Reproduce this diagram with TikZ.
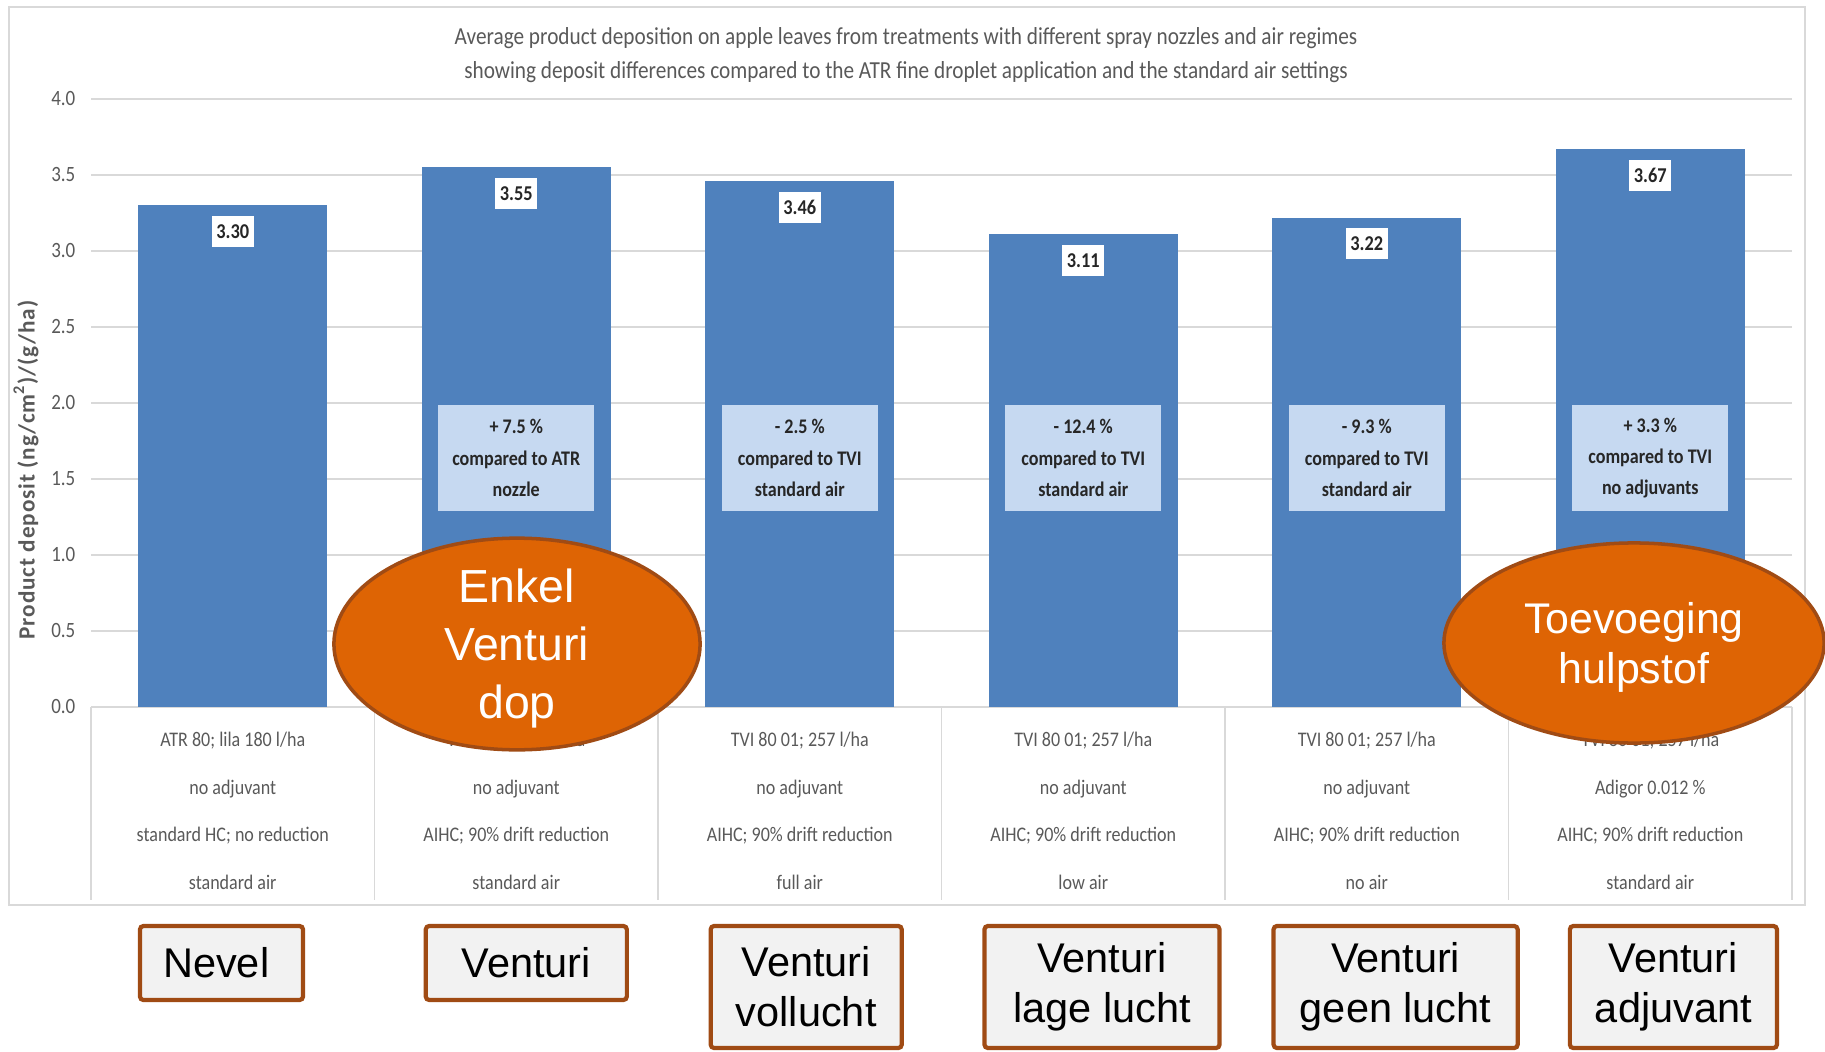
\documentclass[tikz,border=0pt]{standalone}
\usepackage{fontspec}
\setmainfont{Carlito}
\newfontfamily\chartfont[FakeStretch=0.87]{Carlito}
\newfontfamily\axisfont[LetterSpace=4]{Carlito}
\newfontfamily\arialfont{Liberation Sans}
\definecolor{barblue}{RGB}{79,129,189}
\definecolor{cmpblue}{RGB}{198,217,241}
\definecolor{gridgray}{RGB}{217,217,217}
\definecolor{textgray}{RGB}{89,89,89}
\definecolor{dutchorange}{RGB}{222,100,4}
\definecolor{darkrim}{RGB}{160,75,20}
\definecolor{boxgray}{RGB}{242,242,242}
\usetikzlibrary{shapes.geometric}

\begin{document}
\begin{tikzpicture}[x=0.01cm, y=-0.01cm,
    ticklabel/.style={anchor=east, text=textgray, inner sep=0pt, font=\chartfont\fontsize{6.2}{7}\selectfont},
    vallabel/.style={fill=white, text=black!85, minimum width=0.42cm, minimum height=0.31cm, inner sep=0pt, font=\chartfont\bfseries\fontsize{6}{7}\selectfont},
    cmpbox/.style={fill=cmpblue, text=black!85, minimum width=1.56cm, minimum height=1.06cm, inner sep=0pt, align=center, font=\chartfont\bfseries\fontsize{5.9}{8.9}\selectfont},
    cattext/.style={text=textgray, align=center, inner sep=0pt, font=\chartfont\fontsize{5.9}{13.57}\selectfont},
    oval/.style={ellipse, fill=dutchorange, draw=darkrim, line width=1pt, text=white, align=center, inner sep=0pt, text depth=0pt},
    namebox/.style={draw=darkrim, fill=boxgray, line width=1.2pt, rounded corners=1pt, align=center, inner sep=0pt, font=\arialfont\fontsize{11.8}{14.2}\selectfont}
  ]
        \useasboundingbox (0,0) rectangle (1825,1052);
        \draw[gridgray] (9,7) rectangle (1805,905);
        \node[text=textgray, align=center, font=\chartfont\fontsize{6.95}{9.7}\selectfont] (title) at (906,55)
          {Average product deposition on apple leaves from treatments with different spray nozzles and air regimes\\
           showing deposit differences compared to the ATR fine droplet application and the standard air settings};
        \node[rotate=90, text=textgray, font=\axisfont\bfseries\fontsize{6.6}{8}\selectfont] (ytitle) at (26,470)
          {Product deposit (ng/cm\textsuperscript{2})/(g/ha)};

        \draw[gridgray] (91,99) -- (1792,99);
        \draw[gridgray] (91,175) -- (1792,175);
        \draw[gridgray] (91,251) -- (1792,251);
        \draw[gridgray] (91,327) -- (1792,327);
        \draw[gridgray] (91,403) -- (1792,403);
        \draw[gridgray] (91,479) -- (1792,479);
        \draw[gridgray] (91,555) -- (1792,555);
        \draw[gridgray] (91,631) -- (1792,631);
        \draw[gridgray] (91,707) -- (1792,707);
        \node[ticklabel] (t40) at (76,99) {4.0};
        \node[ticklabel] (t35) at (76,175) {3.5};
        \node[ticklabel] (t30) at (76,251) {3.0};
        \node[ticklabel] (t25) at (76,327) {2.5};
        \node[ticklabel] (t20) at (76,403) {2.0};
        \node[ticklabel] (t15) at (76,479) {1.5};
        \node[ticklabel] (t10) at (76,555) {1.0};
        \node[ticklabel] (t05) at (76,631) {0.5};
        \node[ticklabel] (t00) at (76,707) {0.0};

        \fill[barblue] (138,707) rectangle (327,205.4);
        \fill[barblue] (422,707) rectangle (611,167.4);
        \fill[barblue] (705,707) rectangle (894,181.1);
        \fill[barblue] (989,707) rectangle (1178,234.3);
        \fill[barblue] (1272,707) rectangle (1461,217.6);
        \fill[barblue] (1556,707) rectangle (1745,149.2);
        \node[vallabel] (val1) at (232.75,231.4) {3.30};
        \node[vallabel] (val2) at (516.25,193.4) {3.55};
        \node[vallabel] (val3) at (799.75,207.1) {3.46};
        \node[vallabel] (val4) at (1083.25,260.3) {3.11};
        \node[vallabel] (val5) at (1366.75,243.6) {3.22};
        \node[vallabel] (val6) at (1650.25,175.2) {3.67};

        \node[cmpbox] (cmp2) at (516.25,458) {+ 7.5 \%\\compared to ATR\\nozzle};
        \node[cmpbox] (cmp3) at (799.75,458) {- 2.5 \%\\compared to TVI\\standard air};
        \node[cmpbox] (cmp4) at (1083.25,458) {- 12.4 \%\\compared to TVI\\standard air};
        \node[cmpbox] (cmp5) at (1366.75,458) {- 9.3 \%\\compared to TVI\\standard air};
        \node[cmpbox] (cmp6) at (1650.25,458) {+ 3.3 \%\\compared to TVI\\no adjuvants};

        \draw[gridgray] (91,707) -- (91,900);
        \draw[gridgray] (374.5,707) -- (374.5,900);
        \draw[gridgray] (658,707) -- (658,900);
        \draw[gridgray] (941.5,707) -- (941.5,900);
        \draw[gridgray] (1225,707) -- (1225,900);
        \draw[gridgray] (1508.5,707) -- (1508.5,900);
        \draw[gridgray] (1792,707) -- (1792,900);
        \node[cattext] (cat1) at (232.75,811) {ATR 80; lila 180 l/ha\\no adjuvant\\standard HC; no reduction\\standard air};
        \node[cattext] (cat2) at (516.25,811) {TVI 80 01; 257 l/ha\\no adjuvant\\AIHC; 90\% drift reduction\\standard air};
        \node[cattext] (cat3) at (799.75,811) {TVI 80 01; 257 l/ha\\no adjuvant\\AIHC; 90\% drift reduction\\full air};
        \node[cattext] (cat4) at (1083.25,811) {TVI 80 01; 257 l/ha\\no adjuvant\\AIHC; 90\% drift reduction\\low air};
        \node[cattext] (cat5) at (1366.75,811) {TVI 80 01; 257 l/ha\\no adjuvant\\AIHC; 90\% drift reduction\\no air};
        \node[cattext] (cat6) at (1650.25,811) {TVI 80 01; 257 l/ha\\Adigor 0.012 \%\\AIHC; 90\% drift reduction\\standard air};

        \node[oval, minimum width=3.66cm, minimum height=2.02cm, font=\arialfont\fontsize{13.2}{16.5}\selectfont] (enkel) at (517,644) {Enkel\\Venturi\\dop};
        \node[oval, minimum width=3.80cm, minimum height=2.00cm, font=\arialfont\fontsize{12.2}{14.2}\selectfont] (hulpstof) at (1634,643) {Toevoeging\\hulpstof};

        \node[namebox, minimum width=1.63cm, minimum height=0.74cm] (nevel) at (221.5,963) {Nevel\hspace{3pt}};
        \node[namebox, minimum width=2.01cm, minimum height=0.74cm] (venturi) at (526.3,963) {Venturi};
        \node[namebox, minimum width=1.91cm, minimum height=1.22cm] (vollucht) at (806.2,987) {Venturi\\vollucht};
        \node[namebox, minimum width=2.35cm, minimum height=1.22cm] (lage) at (1102,987) {Venturi\\lage lucht};
        \node[namebox, minimum width=2.44cm, minimum height=1.22cm] (geen) at (1395.6,987) {Venturi\\geen lucht};
        \node[namebox, minimum width=2.07cm, minimum height=1.22cm] (adjuvant) at (1673.4,987) {Venturi\\adjuvant};
      \end{tikzpicture}
\end{document}
